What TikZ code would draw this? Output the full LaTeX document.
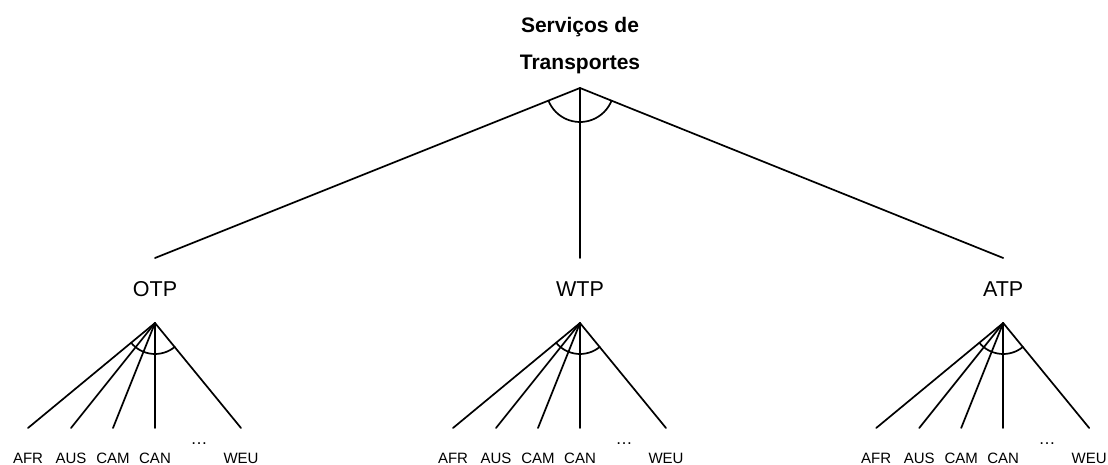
\documentclass[tikz,border=0pt]{standalone}
\usepackage{fontspec}
\setmainfont{Liberation Sans}
\begin{document}
\begin{tikzpicture}[x=1pt,y=1pt,
  edge/.style={line width=1.7pt, line cap=round},
  toptext/.style={font=\fontsize{21}{24}\selectfont\bfseries, anchor=base, inner sep=0pt},
  midtext/.style={font=\fontsize{21.5}{24}\selectfont, anchor=base, inner sep=0pt},
  leaftext/.style={font=\fontsize{15}{17}\selectfont, anchor=base, inner sep=0pt},
  dotstext/.style={font=\fontsize{17}{19}\selectfont, anchor=base, inner sep=0pt}]
\useasboundingbox (0,0) rectangle (1108,-465);
\node[toptext] (t1) at (580,-33) {Serviços de};
\node[toptext] (t2) at (580,-70) {Transportes};
\coordinate (root) at (580,-88);
\foreach \p/\x/\lab in {otp/155/OTP, wtp/580/WTP, atp/1003.2/ATP}{
  \coordinate (\p-top) at (\x,-258);
  \node[midtext] (\p) at (\x,-296) {\lab};
  \coordinate (\p-apex) at (\x,-323);
  \draw[edge] (root) -- (\p-top);
  \foreach \n/\dx/\l in {afr/-127/AFR, aus/-84/AUS, cam/-42/CAM, can/0/CAN, weu/86/WEU}{
    \coordinate (\p-\n) at (\x+\dx,-428);
    \node[leaftext] (\p-\n-lab) at (\x+\dx,-463) {\l};
    \draw[edge] (\p-apex) -- (\p-\n);
  }
  \node[dotstext] (\p-dots) at (\x+44,-444) {…};
  \draw[edge] ([shift={(219.6:31pt)}]\p-apex) arc[start angle=219.6, end angle=309.3, radius=31pt];
}
\draw[edge] ([shift={(201.8:34pt)}]root) arc[start angle=201.8, end angle=338.1, radius=34pt];
\end{tikzpicture}
\end{document}
